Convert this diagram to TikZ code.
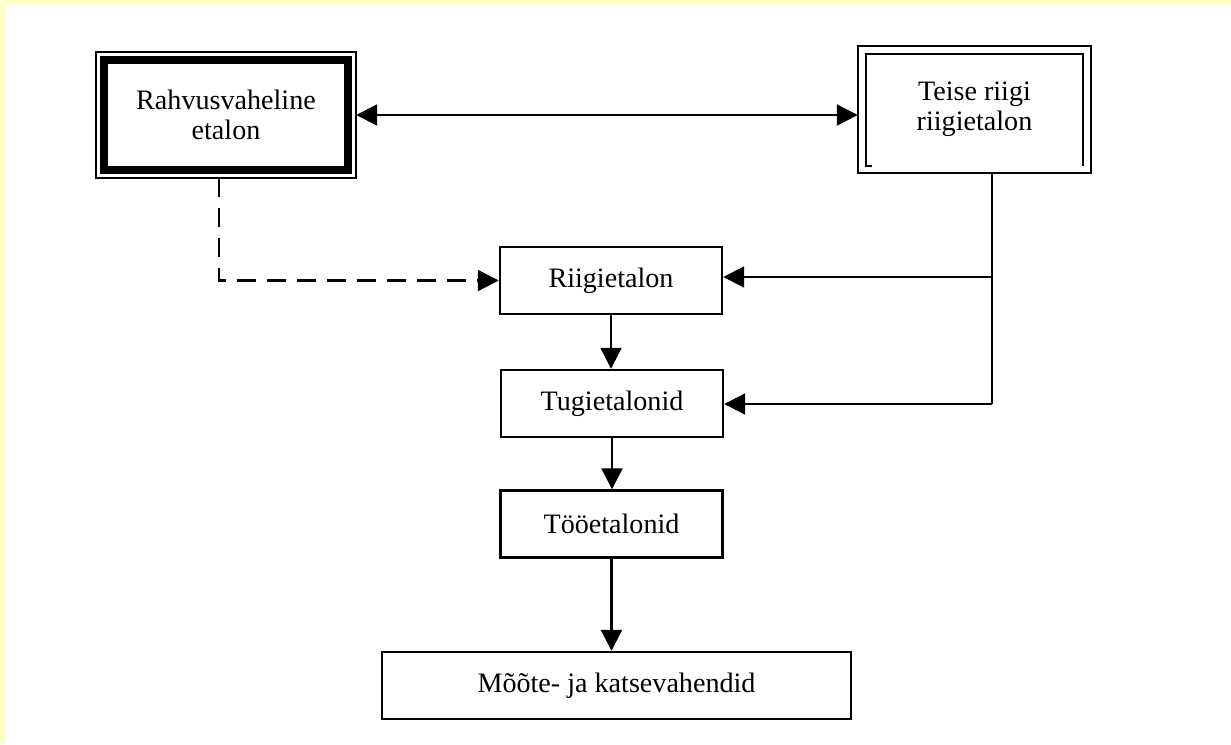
\documentclass[tikz,border=0pt]{standalone}
\usepackage{fontspec}
\setmainfont{Liberation Serif}
\usetikzlibrary{arrows.meta}
\definecolor{pageyellow}{RGB}{255,255,200}
\tikzset{
  etalon/.style={draw, line width=1.4pt, minimum width=4.44cm, minimum height=1.34cm,
    inner sep=0pt, align=center, font=\fontsize{16}{17}\selectfont},
  framed/.style={etalon, draw=none},
  link/.style={line width=1.3pt},
}
\begin{document}
\begin{tikzpicture}[>={Triangle[length=0.42cm,width=0.42cm]}]
  \useasboundingbox (0,0) rectangle (24.62,-14.88);
  \fill[pageyellow] (0,0) rectangle (24.62,-0.1);
  \fill[pageyellow] (0,0) rectangle (0.12,-14.88);

  % top row
  \node[framed, minimum width=5.16cm, minimum height=2.48cm] (rahvus) at (4.52,-2.30)
    {Rahvusvaheline\\etalon};
  \draw[line width=1.4pt] (rahvus.north west) rectangle (rahvus.south east);
  \draw[line width=0.17cm] ([shift={(0.16,-0.16)}]rahvus.north west) rectangle
    ([shift={(-0.16,0.16)}]rahvus.south east);

  \node[framed, minimum width=4.62cm, minimum height=2.50cm] (teise) at (19.49,-2.19)
    {Teise riigi\\riigietalon};
  \draw[line width=1.4pt] (teise.north west) rectangle (teise.south east);
  \draw[line width=1.4pt] ([shift={(0.28,0.14)}]teise.south west) --
    ([shift={(0.16,0.14)}]teise.south west) |- ([shift={(-0.16,-0.16)}]teise.north east) --
    ([shift={(-0.16,0.14)}]teise.south east);

  % chain
  \node[etalon] (riigi) at (12.22,-5.61) {Riigietalon};
  \node[etalon] (tugi) at (12.24,-8.07) {Tugietalonid};
  \node[etalon] (too) at (12.23,-10.48) {Tööetalonid};
  \node[etalon, minimum width=9.38cm] (vahend) at (12.33,-13.71) {Mõõte- ja katsevahendid};

  \draw[link,<->] (rahvus.east) -- (rahvus.east -| teise.west);
  \draw[link,->,dash pattern=on 0.38cm off 0.22cm] ([xshift=-0.14cm]rahvus.south) |- (riigi.west);

  \draw[link,->] (riigi.south) -- (riigi.south |- tugi.north);
  \draw[link,->] (tugi.south) -- (tugi.south |- too.north);
  \draw[link,->] (too.south) -- (too.south |- vahend.north);

  % right feed
  \coordinate (split) at (19.84,-5.54);
  \coordinate (bend) at (19.84,-8.08);
  \draw[link] (teise.south -| split) -- (bend);
  \draw[link,->] (split) -- (split -| riigi.east);
  \draw[link,->] (bend) -- (bend -| tugi.east);
\end{tikzpicture}
\end{document}
